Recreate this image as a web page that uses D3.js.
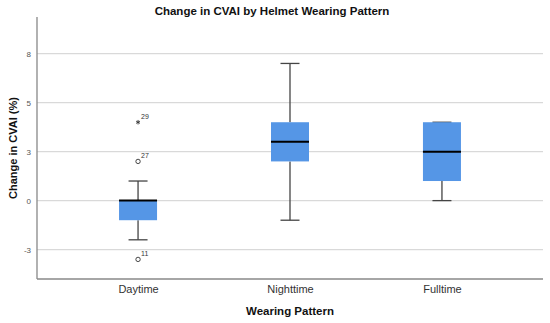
<!DOCTYPE html>
<html><head><meta charset="utf-8">
<script src="https://cdn.jsdelivr.net/npm/d3@7/dist/d3.min.js"></script>
<style>body{margin:0;background:#fff}svg{display:block}text{font-family:"Liberation Sans",Arial,sans-serif}</style>
</head><body><svg id="c" width="550" height="323"></svg>
<script>
const categories = ["Daytime", "Nighttime", "Fulltime"];
const whiskerLow = [-2.0, -1.0, 0.0];
const q1 = [-1.0, 2.0, 1.0];
const median = [0.0, 3.0, 2.5];
const q3 = [0.0, 4.0, 4.0];
const whiskerHigh = [1.0, 7.0, 4.0];
const outliers = [
  {cat: "Daytime", value: 4.0, label: "29", shape: "star"},
  {cat: "Daytime", value: 2.0, label: "27", shape: "circle"},
  {cat: "Daytime", value: -3.0, label: "11", shape: "circle"}
];
const tickValues = [-2.5, 0, 2.5, 5, 7.5];
const tickLabels = ["-3", "0", "3", "5", "8"];

const svg = d3.select("#c");
const L = 37, R = 543, T = 17, B = 279;
const y = d3.scaleLinear().domain([-4, 9.37]).range([B, T]);
const x = d3.scalePoint().domain(categories).range([L, R]).padding(0.665);

// gridlines
svg.append("g").selectAll("line").data(tickValues).join("line")
  .attr("x1", L).attr("x2", R).attr("y1", d => y(d)).attr("y2", d => y(d))
  .attr("stroke", "#d9d9d9").attr("stroke-width", 1.3);

// y axis
const yAxis = d3.axisLeft(y).tickValues(tickValues).tickSize(0).tickPadding(6)
  .tickFormat((d, i) => tickLabels[i]);
const gy = svg.append("g").attr("transform", `translate(${L},0)`).call(yAxis);
gy.select(".domain").remove();
gy.selectAll("text").attr("font-size", 8).attr("fill", "#555").attr("font-family", "Liberation Sans, Arial, sans-serif");

// x axis
const xAxis = d3.axisBottom(x).tickSize(0).tickPadding(6);
const gx = svg.append("g").attr("transform", `translate(0,${B})`).call(xAxis);
gx.select(".domain").remove();
gx.selectAll("text").attr("font-size", 11).attr("fill", "#333").attr("font-family", "Liberation Sans, Arial, sans-serif");

// axis lines
svg.append("line").attr("x1", L).attr("x2", L).attr("y1", T).attr("y2", B).attr("stroke", "#888").attr("stroke-width", 1.3);
svg.append("line").attr("x1", L).attr("x2", R).attr("y1", B).attr("y2", B).attr("stroke", "#888").attr("stroke-width", 1.3);

const bw = 38, cap = 19;
const g = svg.append("g");
categories.forEach((c, i) => {
  const cx = x(c);
  // whisker lines
  g.append("line").attr("x1", cx).attr("x2", cx).attr("y1", y(whiskerHigh[i])).attr("y2", y(q3[i])).attr("stroke", "#444").attr("stroke-width", 1.3);
  g.append("line").attr("x1", cx).attr("x2", cx).attr("y1", y(q1[i])).attr("y2", y(whiskerLow[i])).attr("stroke", "#444").attr("stroke-width", 1.3);
  g.append("line").attr("x1", cx - cap/2).attr("x2", cx + cap/2).attr("y1", y(whiskerHigh[i])).attr("y2", y(whiskerHigh[i])).attr("stroke", "#444").attr("stroke-width", 1.3);
  g.append("line").attr("x1", cx - cap/2).attr("x2", cx + cap/2).attr("y1", y(whiskerLow[i])).attr("y2", y(whiskerLow[i])).attr("stroke", "#444").attr("stroke-width", 1.3);
  // box
  g.append("rect").attr("x", cx - bw/2).attr("width", bw)
    .attr("y", y(q3[i])).attr("height", Math.max(0, y(q1[i]) - y(q3[i])))
    .attr("fill", "#5596e6");
  // median
  g.append("line").attr("x1", cx - bw/2).attr("x2", cx + bw/2).attr("y1", y(median[i])).attr("y2", y(median[i])).attr("stroke", "#000").attr("stroke-width", 2);
});

// outliers
outliers.forEach(o => {
  const cx = x(o.cat), cy = y(o.value);
  if (o.shape === "circle") {
    g.append("circle").attr("cx", cx).attr("cy", cy).attr("r", 2.2).attr("fill", "none").attr("stroke", "#333").attr("stroke-width", 0.9);
  } else {
    g.append("path").attr("d", d3.symbol(d3.symbolAsterisk, 14)()).attr("transform", `translate(${cx},${cy})`).attr("fill", "none").attr("stroke", "#333").attr("stroke-width", 0.9);
  }
  g.append("text").attr("x", cx + 3).attr("y", cy - 3).attr("font-size", 7).attr("fill", "#333").text(o.label);
});

// titles
svg.append("text").attr("x", 272).attr("y", 15).attr("text-anchor", "middle").attr("font-size", 11.5).attr("font-weight", "bold").attr("fill", "#111").text("Change in CVAI by Helmet Wearing Pattern");
svg.append("text").attr("x", (L + R) / 2).attr("y", 315).attr("text-anchor", "middle").attr("font-size", 11.5).attr("font-weight", "bold").attr("fill", "#111").text("Wearing Pattern");
svg.append("text").attr("transform", `translate(17,${(T + B) / 2}) rotate(-90)`).attr("text-anchor", "middle").attr("font-size", 11).attr("font-weight", "bold").attr("fill", "#111").text("Change in CVAI (%)");
</script></body></html>
